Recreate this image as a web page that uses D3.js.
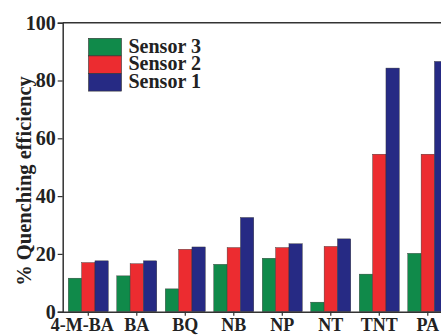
<!DOCTYPE html>
<html><head><meta charset="utf-8">
<script src="https://cdn.jsdelivr.net/npm/d3@7"></script>
<style>
html,body{margin:0;padding:0;background:#fff;overflow:hidden;}
svg{display:block;}
text{font-family:"Liberation Serif","Times New Roman",serif;font-weight:bold;fill:#222;}
</style></head>
<body>
<svg id="c" width="441" height="335"></svg>
<script>
const categories = ["4-M-BA","BA","BQ","NB","NP","NT","TNT","PA"];
const seriesNames = ["Sensor 3","Sensor 2","Sensor 1"];
const sensor3 = [11.6, 12.4, 7.9, 16.4, 18.5, 3.3, 13.0, 20.2];
const sensor2 = [17.0, 16.6, 21.6, 22.2, 22.2, 22.6, 54.5, 54.5];
const sensor1 = [17.6, 17.6, 22.4, 32.6, 23.5, 25.2, 84.3, 86.6];
const yTicks = [0, 20, 40, 60, 80, 100];
const colors = ["#108a4a", "#ec2c30", "#262a84"];

const FONT = "'Liberation Serif', 'Times New Roman', serif";
const svg = d3.select("#c");
const x0 = 62.7, yTop = 22.7, yBot = 311.7;
const step = 48.5;
const x = d3.scaleBand().domain(categories)
  .range([x0, x0 + step * (categories.length - 0.175 + 0.23)])
  .paddingInner(0.175).paddingOuter(0.115);
const xs = d3.scaleBand().domain(seriesNames).range([0, x.bandwidth()]);
const y = d3.scaleLinear().domain([0, 100]).range([yBot, yTop]);

const data = [sensor3, sensor2, sensor1];
categories.forEach((c, i) => {
  seriesNames.forEach((s, j) => {
    const v = data[j][i];
    svg.append("rect")
      .attr("x", x(c) + xs(s))
      .attr("y", y(v))
      .attr("width", xs.bandwidth())
      .attr("height", y(0) - y(v))
      .attr("fill", colors[j])
      .attr("stroke", "#333")
      .attr("stroke-width", 0.4);
  });
});

// top border
svg.append("line").attr("x1", x0).attr("x2", 441).attr("y1", yTop).attr("y2", yTop)
  .attr("stroke", "#333").attr("stroke-width", 1.5);

// y axis
const yAxis = svg.append("g").attr("transform", `translate(${x0},0)`)
  .call(d3.axisLeft(y).tickValues(yTicks).tickSize(5).tickPadding(2));
yAxis.attr("font-family", null);
yAxis.select(".domain").attr("stroke", "#333").attr("stroke-width", 1.5);
yAxis.selectAll(".tick line").attr("stroke", "#333").attr("stroke-width", 1.2);
yAxis.selectAll("text").style("font-size", "20px").style("fill", "#222")
  .style("font-family", FONT).style("font-weight", "bold");

// x axis
const xAxis = svg.append("g").attr("transform", `translate(0,${yBot})`)
  .call(d3.axisBottom(x).tickSize(4).tickSizeOuter(0).tickPadding(3));
xAxis.attr("font-family", null);
xAxis.select(".domain").attr("stroke", "#333").attr("stroke-width", 1.5)
  .attr("d", `M${x0},0.5H441`);
xAxis.selectAll(".tick line").attr("stroke", "#333").attr("stroke-width", 1.2);
xAxis.selectAll("text").style("font-size", "18px").style("fill", "#222")
  .style("font-family", FONT).style("font-weight", "bold")
  .attr("dx", (d, i) => i === 0 ? -6 : 0);

// y label
svg.append("text")
  .attr("transform", `translate(31,${181}) rotate(-90)`)
  .attr("text-anchor", "middle")
  .style("font-family", FONT)
  .style("font-size", "20.5px")
  .text("% Quenching efficiency");

// legend
const lg = svg.append("g").attr("transform", "translate(88.5,38.3)");
seriesNames.forEach((s, j) => {
  lg.append("rect").attr("x", 0).attr("y", j * 17.6).attr("width", 33).attr("height", 17.6)
    .attr("fill", colors[j]).attr("stroke", "#333").attr("stroke-width", 0.6);
  lg.append("text").attr("x", 40).attr("y", j * 17.6 + 14.5)
    .style("font-family", FONT)
    .style("font-size", "20px").text(s);
});
</script>
</body></html>
